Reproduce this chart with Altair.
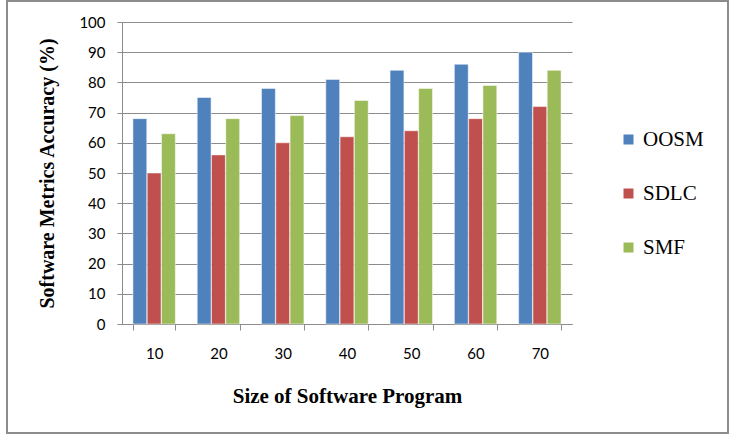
import altair as alt
import pandas as pd

sizes = ["10", "20", "30", "40", "50", "60", "70"]
series = ["OOSM", "SDLC", "SMF"]
oosm = [68, 75, 78, 81, 84, 86, 90]
sdlc = [50, 56, 60, 62, 64, 68, 72]
smf = [63, 68, 69, 74, 78, 79, 84]
colors = ["#4F81BD", "#C0504D", "#9BBB59"]
y_ticks = [0, 10, 20, 30, 40, 50, 60, 70, 80, 90, 100]

rows = []
for name, vals in zip(series, [oosm, sdlc, smf]):
    for s, v in zip(sizes, vals):
        rows.append({"size": s, "series": name, "value": v})
df = pd.DataFrame(rows)

gray = "#8c8c8c"

bars = alt.Chart(df).mark_bar(stroke="white", strokeWidth=0.5).encode(
    x=alt.X(
        "size:N",
        sort=sizes,
        scale=alt.Scale(paddingInner=0.34, paddingOuter=0.17),
        axis=alt.Axis(
            title="Size of Software Program",
            labelAngle=0,
            tickBand="extent",
            tickSize=6,
            tickColor=gray,
            domainColor=gray,
            labelPadding=16,
            labelFont="Lato",
            labelFontSize=15,
            labelColor="#000000",
            titleFont="Liberation Serif",
            titleFontSize=21,
            titleFontWeight="bold",
            titleColor="#000000",
            titlePadding=24,
            grid=False,
        ),
    ),
    xOffset=alt.XOffset("series:N", sort=series, scale=alt.Scale(paddingInner=0.03)),
    y=alt.Y(
        "value:Q",
        scale=alt.Scale(domain=[0, 100], nice=False),
        axis=alt.Axis(
            title="Software Metrics Accuracy (%)",
            values=y_ticks,
            tickSize=5,
            tickColor=gray,
            domainColor=gray,
            gridColor=gray,
            gridWidth=1.2,
            labelPadding=12,
            labelFont="Lato",
            labelFontSize=15,
            labelColor="#000000",
            titleFont="Liberation Serif",
            titleFontSize=20,
            titleFontWeight="bold",
            titleColor="#000000",
            titlePadding=21,
        ),
    ),
    color=alt.Color(
        "series:N",
        sort=series,
        scale=alt.Scale(domain=series, range=colors),
        legend=alt.Legend(
            title=None,
            orient="none",
            legendX=496,
            legendY=107,
            symbolType="square",
            symbolSize=100,
            symbolStrokeWidth=0,
            labelFont="Liberation Serif",
            labelFontSize=21,
            labelColor="#000000",
            labelOffset=4,
            rowPadding=32,
        ),
    ),
)

border = alt.Chart(alt.Data(values=[{}])).mark_rect(
    filled=False, stroke=gray, strokeWidth=2
).encode(
    x=alt.value(-115), x2=alt.value(606), y=alt.value(-21), y2=alt.value(411)
)

chart = alt.layer(bars, border).properties(
    width=450,
    height=302,
    padding={"left": 122, "top": 22, "right": 164, "bottom": 118},
    autosize=alt.AutoSizeParams(type="none"),
    background="white",
).configure_view(stroke=None)

chart.save("out.html", embed_options={"renderer": "svg", "actions": False})
